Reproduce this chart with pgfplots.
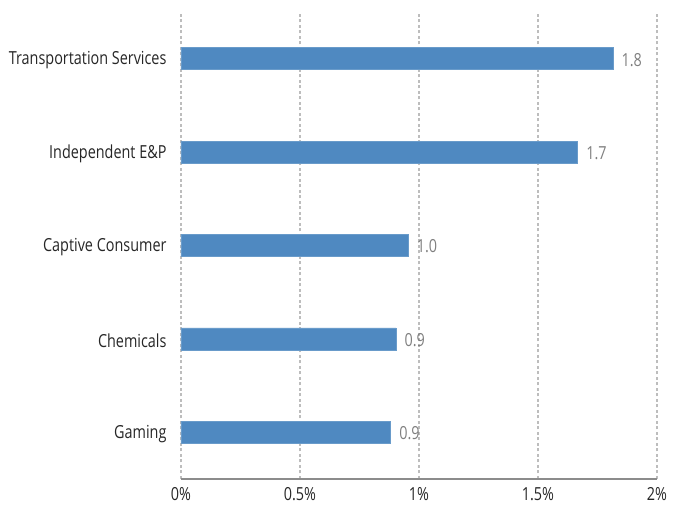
\documentclass[border=0pt]{standalone}
\usepackage{pgfplots}
\pgfplotsset{compat=1.18}
\usepackage{fontspec}
\setmainfont[FakeStretch=0.8]{Open Sans}
\definecolor{barblue}{HTML}{4F89C1}
\definecolor{gridgray}{HTML}{BDBDBD}
\definecolor{axisgray}{HTML}{8C8C8C}
\definecolor{lblgray}{HTML}{7F7F7F}
\definecolor{txt}{HTML}{262626}
\begin{document}
\begin{tikzpicture}
\useasboundingbox (-181pt,-29pt) rectangle (493pt,479pt);
\begin{axis}[
  at={(0pt,0pt)}, anchor=south west,
  scale only axis, width=476pt, height=467pt,
  xbar, bar width=22pt,
  xmin=0, xmax=2, ymin=-0.5, ymax=4.5,
  axis x line*=bottom, axis y line*=left,
  y axis line style={draw=none},
  x axis line style={draw=axisgray, line width=1.5pt, -},
  xtick={0,0.5,1,1.5,2},
  xticklabels={0\%,0.5\%,1\%,1.5\%,2\%},
  ytick={0,1,2,3,4},
  yticklabels={Gaming,Chemicals,Captive Consumer,Independent E\&P,Transportation Services},
  major tick length=0pt,
  xmajorgrids,
  major grid style={draw=gridgray, line width=1.3pt, dash pattern=on 3pt off 2.5pt},
  tick label style={font=\fontsize{18pt}{21pt}\selectfont, text=txt},
  xticklabel style={yshift=-5pt},
  yticklabel style={xshift=-11pt, yshift=-1.5pt},
  /pgf/number format/assume math mode=true,
  nodes near coords,
  nodes near coords style={font=\fontsize{18pt}{21pt}\selectfont, text=lblgray, anchor=west, xshift=5pt, yshift=-1pt,
    /pgf/number format/.cd, fixed, precision=1, fixed zerofill, assume math mode=true},
  clip=false,
]
\addplot[fill=barblue, draw=barblue!85!white, line width=0.6pt] coordinates {
  (0.881,0) (0.903,1) (0.955,2) (1.667,3) (1.815,4)
};
\end{axis}
\end{tikzpicture}
\end{document}
